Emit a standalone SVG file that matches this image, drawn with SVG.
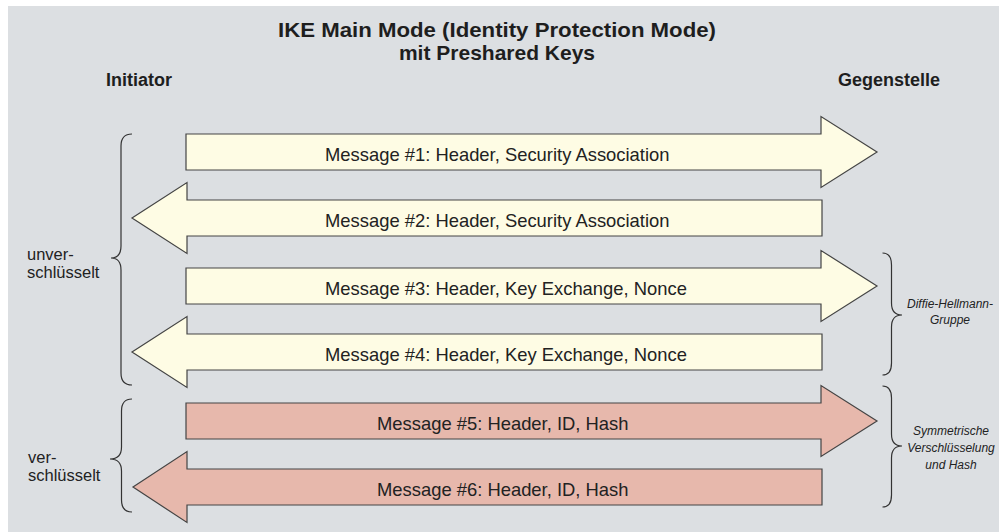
<svg xmlns="http://www.w3.org/2000/svg" width="999" height="532" viewBox="0 0 999 532">
<style>
.bg{fill:#dcdfe2}
.arr{stroke:#444;stroke-width:1.2;stroke-linejoin:miter}
.y{fill:#fefce4}
.r{fill:#e7b8ac}
.brace{fill:none;stroke:#333;stroke-width:1.2}
.title{font-family:"Liberation Sans",Arial,sans-serif;font-weight:bold;font-size:21px;fill:#1e1e1e;text-anchor:middle}
.role{font-family:"Liberation Sans",Arial,sans-serif;font-weight:bold;font-size:18px;fill:#1e1e1e}
.msg{font-family:"Liberation Sans",Arial,sans-serif;font-size:18.4px;fill:#222}
.side{font-family:"Liberation Sans",Arial,sans-serif;font-size:16.5px;fill:#222}
.note{font-family:"Liberation Sans",Arial,sans-serif;font-style:italic;font-size:12px;fill:#222;text-anchor:middle}
</style>
<rect class="bg" x="8" y="6" width="991" height="526"/>
<g id="title">
<text class="title" x="497" y="37" textLength="438" lengthAdjust="spacingAndGlyphs">IKE Main Mode (Identity Protection Mode)</text>
<text class="title" x="497" y="60">mit Preshared Keys</text>
</g>
<g id="initiator"><text class="role" x="106" y="86">Initiator</text></g>
<g id="gegenstelle"><text class="role" x="838" y="86">Gegenstelle</text></g>

<g id="msg1">
<path class="arr y" d="M186,134 H821 V116.5 L877,152 L821,187.5 V170 H186 Z"/>
<text class="msg" x="325" y="161">Message #1: Header, Security Association</text>
</g>
<g id="msg2">
<path class="arr y" d="M822,200 H187 V182.5 L132,218 L187,253.5 V236 H822 Z"/>
<text class="msg" x="325" y="227">Message #2: Header, Security Association</text>
</g>
<g id="msg3">
<path class="arr y" d="M186,268 H821 V250.5 L877,286 L821,321.5 V304 H186 Z"/>
<text class="msg" x="325" y="295">Message #3: Header, Key Exchange, Nonce</text>
</g>
<g id="msg4">
<path class="arr y" d="M822,334 H187 V316.5 L132,352 L187,387.5 V370 H822 Z"/>
<text class="msg" x="325" y="361">Message #4: Header, Key Exchange, Nonce</text>
</g>
<g id="msg5">
<path class="arr r" d="M186,403 H821 V385.5 L877,421 L821,456.5 V439 H186 Z"/>
<text class="msg" x="377" y="430">Message #5: Header, ID, Hash</text>
</g>
<g id="msg6">
<path class="arr r" d="M822,469 H187 V451.5 L133,487 L187,522.5 V505 H822 Z"/>
<text class="msg" x="377" y="496">Message #6: Header, ID, Hash</text>
</g>

<g id="unverschluesselt">
<path class="brace" d="M132,134 Q121,134 121,146 L121,246 Q121,258 111,258 Q121,258 121,270 L121,373 Q121,385 132,385"/>
<text class="side" x="27" y="260">unver-</text>
<text class="side" x="27" y="278">schlüsselt</text>
</g>
<g id="verschluesselt">
<path class="brace" d="M132,399 Q121.5,399 121.5,411 L121.5,447 Q121.5,459 110,459 Q121.5,459 121.5,471 L121.5,500 Q121.5,512 132,512"/>
<text class="side" x="28" y="463">ver-</text>
<text class="side" x="28" y="481">schlüsselt</text>
</g>
<g id="diffie-hellmann">
<path class="brace" d="M882.5,253 Q891.5,253 891.5,265 L891.5,303 Q891.5,315 902,315 Q891.5,315 891.5,327 L891.5,363 Q891.5,375 882.5,375"/>
<text class="note" x="950" y="308">Diffie-Hellmann-</text>
<text class="note" x="950" y="324">Gruppe</text>
</g>
<g id="symmetrisch">
<path class="brace" d="M882.5,386 Q891.5,386 891.5,398 L891.5,434 Q891.5,446 902,446 Q891.5,446 891.5,458 L891.5,495 Q891.5,507 882.5,507"/>
<text class="note" x="951" y="435">Symmetrische</text>
<text class="note" x="951" y="452">Verschlüsselung</text>
<text class="note" x="951" y="469">und Hash</text>
</g>
<g id="connectors"/>
</svg>
